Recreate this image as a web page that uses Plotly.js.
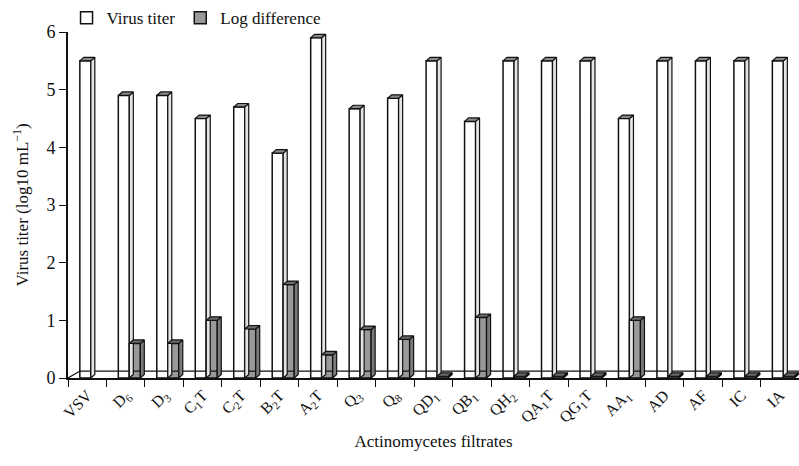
<!DOCTYPE html>
<html>
<head>
<meta charset="utf-8">
<script src="https://cdn.plot.ly/plotly-3.0.1.min.js"></script>
<style>html,body{margin:0;padding:0;background:#fff;}#chart{width:799px;height:466px;}</style>
</head>
<body>
<div id="chart"></div>
<script>
var categories = ['VSV','D<sub>6</sub>','D<sub>3</sub>','C<sub>1</sub>T','C<sub>2</sub>T','B<sub>2</sub>T','A<sub>2</sub>T','Q<sub>3</sub>','Q<sub>8</sub>','QD<sub>1</sub>','QB<sub>1</sub>','QH<sub>2</sub>','QA<sub>1</sub>T','QG<sub>1</sub>T','AA<sub>1</sub>','AD','AF','IC','IA'];
var virusTiter = [5.5, 4.9, 4.9, 4.5, 4.7, 3.9, 5.9, 4.67, 4.85, 5.5, 4.45, 5.5, 5.5, 5.5, 4.5, 5.5, 5.5, 5.5, 5.5];
var logDifference = [null, 0.6, 0.6, 1.0, 0.85, 1.62, 0.4, 0.84, 0.67, 0.03, 1.05, 0.03, 0.03, 0.03, 1.0, 0.03, 0.03, 0.03, 0.03];
var seriesNames = ['Virus titer', 'Log difference'];
var yTicks = [0, 1, 2, 3, 4, 5, 6];

var W = 799, H = 466, ML = 68, MR = 0, MT = 29, MB = 88;
var plotW = W - ML - MR, plotH = H - MT - MB;
var nCat = categories.length;
var pxPerCat = plotW / nCat, pxPerY = plotH / 6;
var barW = 11 / pxPerCat;
var shift = 3.6 / pxPerCat;
var off0 = -barW + shift, off1 = shift;
var dx = 4 / pxPerCat, dy = 3.5 / pxPerY;
var font = 'Liberation Serif';

// 3D faces as filled polygons on an overlaid linear axis (positions from the data arrays)
function faces(vals, off, kind) {
  var xs = [], ys = [];
  vals.forEach(function(v, i){
    if (v === null) return;
    var xl = i + off, xr = xl + barW;
    if (kind === 'side') {
      xs.push(xr, xr + dx, xr + dx, xr, xr, null);
      ys.push(0, dy, v + dy, v, 0, null);
    } else {
      xs.push(xl, xl + dx, xr + dx, xr, xl, null);
      ys.push(v, v + dy, v + dy, v, v, null);
    }
  });
  return {x: xs, y: ys};
}
function faceTrace(f, fill) {
  return {type:'scatter', mode:'lines', x:f.x, y:f.y, xaxis:'x2', yaxis:'y', fill:'toself', fillcolor:fill,
    line:{color:'#111', width:1.2}, showlegend:false, hoverinfo:'skip', connectgaps:false};
}
var floorDx = 12 / pxPerCat, floorDy = 7 / pxPerY;
var floorTrace = {type:'scatter', mode:'lines', xaxis:'x2', yaxis:'y',
  x:[-0.5, -0.5 + floorDx, nCat - 0.5], y:[0, floorDy, floorDy],
  line:{color:'#111', width:1.2}, showlegend:false, hoverinfo:'skip'};

var traces = [
  {type:'bar', name:seriesNames[0], x:categories, y:virusTiter, width:barW, offset:off0,
   marker:{color:'#ffffff', line:{color:'#111', width:1.5}}},
  {type:'bar', name:seriesNames[1], x:categories, y:logDifference, width:barW, offset:off1,
   marker:{color:'#999999', line:{color:'#111', width:1.5}}},
  floorTrace,
  faceTrace(faces(virusTiter, off0, 'side'), '#e4e4e4'),
  faceTrace(faces(virusTiter, off0, 'top'), '#8a8a8a'),
  faceTrace(faces(logDifference, off1, 'side'), '#7a7a7a'),
  faceTrace(faces(logDifference, off1, 'top'), '#6a6a6a')
];

var layout = {
  width: W, height: H,
  margin: {l: ML, r: MR, t: MT, b: MB},
  paper_bgcolor: '#fff', plot_bgcolor: '#fff',
  barmode: 'overlay',
  showlegend: true,
  legend: {orientation:'h', x:-0.002, xanchor:'left', y:1.092, yanchor:'top',
    font:{family:font, size:17, color:'#111'}, bgcolor:'rgba(0,0,0,0)'},
  xaxis: {type:'category', range:[-0.5, nCat-0.5], tickson:'boundaries', ticks:'outside', ticklen:7, tickcolor:'#111', tickwidth:1.3,
    showline:true, linecolor:'#111', linewidth:1.6, showgrid:false, zeroline:false,
    tickangle:-45, tickfont:{family:font, size:16, color:'#111'},
    title:{text:'Actinomycetes filtrates', font:{family:font, size:17, color:'#111'}, standoff:8}},
  xaxis2: {type:'linear', overlaying:'x', anchor:'y', range:[-0.5, nCat-0.5], visible:false, showgrid:false, zeroline:false},
  yaxis: {range:[0, 6], tickvals:yTicks, ticks:'outside', ticklen:7, tickcolor:'#111', tickwidth:1.3,
    showline:true, linecolor:'#111', linewidth:1.6, showgrid:false, zeroline:false,
    tickfont:{family:font, size:18, color:'#111'},
    title:{text:'Virus titer (log10 mL<sup>\u22121</sup>)', font:{family:font, size:17, color:'#111'}, standoff:14}}
};

Plotly.newPlot('chart', traces, layout, {displayModeBar:false});
</script>
</body>
</html>
